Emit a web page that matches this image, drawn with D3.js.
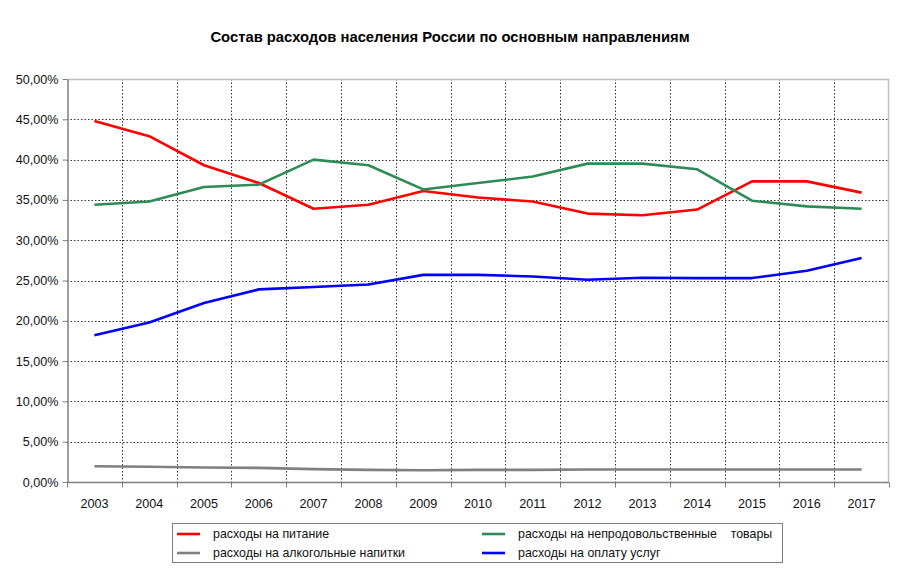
<!DOCTYPE html>
<html>
<head>
<meta charset="utf-8">
<script src="https://cdn.jsdelivr.net/npm/d3@7"></script>
<style>
  body { margin: 0; background: #fff; }
  svg { font-family: "Liberation Sans", Arial, sans-serif; }
</style>
</head>
<body>
<div id="chart"></div>
<script>
// values in %
var years = ['2003', '2004', '2005', '2006', '2007', '2008', '2009', '2010',
             '2011', '2012', '2013', '2014', '2015', '2016', '2017'];
var food    = [44.8, 42.9, 39.3, 37.1, 33.9, 34.4, 36.1, 35.3, 34.8, 33.3, 33.1, 33.8, 37.3, 37.3, 35.9];
var goods   = [34.4, 34.8, 36.6, 36.9, 40.0, 39.3, 36.3, 37.1, 37.9, 39.5, 39.5, 38.8, 34.9, 34.2, 33.9];
var alcohol = [1.95, 1.9, 1.8, 1.75, 1.6, 1.5, 1.45, 1.5, 1.5, 1.55, 1.55, 1.55, 1.55, 1.55, 1.55];
var service = [18.2, 19.8, 22.2, 23.9, 24.2, 24.5, 25.7, 25.7, 25.5, 25.1, 25.35, 25.3, 25.3, 26.2, 27.8];
var yTicks  = [0, 5, 10, 15, 20, 25, 30, 35, 40, 45, 50];

var title = 'Состав расходов населения России по основным направлениям';

var series = [
  { name: 'расходы на питание', values: food, color: '#ff0000' },
  { name: 'расходы на алкогольные напитки', values: alcohol, color: '#808080' },
  { name: 'расходы на непродовольственные    товары', values: goods, color: '#2e8b57' },
  { name: 'расходы на оплату услуг', values: service, color: '#0000ff' }
];

var width = 900, height = 588;
var margins = { top: 79, right: 11, bottom: 106, left: 67 };

var svg = d3.select('#chart').append('svg')
  .attr('width', width)
  .attr('height', height);

svg.append('text')
  .attr('x', 450)
  .attr('y', 42)
  .attr('text-anchor', 'middle')
  .style('font-size', '14.8px')
  .style('font-weight', 'bold')
  .text(title);

var x = d3.scaleBand()
  .domain(years)
  .range([margins.left, width - margins.right]);

var y = d3.scaleLinear()
  .domain([0, 50])
  .range([height - margins.bottom, margins.top]);

var grid = svg.append('g').attr('class', 'grid');

// horizontal grid
grid.selectAll('line.h')
  .data(yTicks.filter(function (d) { return d > 0 && d < 50; }))
  .enter().append('line')
  .attr('x1', margins.left).attr('x2', width - margins.right)
  .attr('y1', function (d) { return Math.round(y(d)) + 0.5; })
  .attr('y2', function (d) { return Math.round(y(d)) + 0.5; })
  .attr('stroke', '#333')
  .attr('stroke-dasharray', '1.5,2');

// vertical grid at band edges
grid.selectAll('line.v')
  .data(years.slice(1))
  .enter().append('line')
  .attr('x1', function (d) { return Math.round(x(d)) + 0.5; })
  .attr('x2', function (d) { return Math.round(x(d)) + 0.5; })
  .attr('y1', margins.top).attr('y2', height - margins.bottom)
  .attr('stroke', '#333')
  .attr('stroke-dasharray', '1.5,2');

// plot frame (top/right light)
svg.append('path')
  .attr('d', 'M' + margins.left + ',' + (margins.top + 0.5) +
             'H' + (width - margins.right - 0.5) +
             'V' + (height - margins.bottom))
  .attr('fill', 'none')
  .attr('stroke', '#c0c0c0')
  .attr('stroke-width', 1.5);

// y axis
var yAxis = svg.append('g')
  .attr('transform', 'translate(' + (margins.left + 0.5) + ',0)')
  .call(d3.axisLeft(y).tickValues(yTicks).tickSize(5).tickSizeOuter(0)
    .tickFormat(function (d) { return d3.format('.2f')(d).replace('.', ',') + '%'; }));
yAxis.select('.domain').attr('stroke', '#808080').attr('stroke-width', 1.5);
yAxis.selectAll('.tick line').attr('stroke', '#808080');
yAxis.selectAll('text')
  .attr('x', -9)
  .style('font-size', '12.6px')
  .attr('fill', '#111');

// x axis: ticks at band edges, labels at centres
var xAxis = svg.append('g')
  .attr('transform', 'translate(0,' + (height - margins.bottom + 0.5) + ')');
xAxis.append('line')
  .attr('x1', margins.left).attr('x2', width - margins.right)
  .attr('stroke', '#808080').attr('stroke-width', 1.5);
xAxis.selectAll('line.tk')
  .data(years.concat(['end']))
  .enter().append('line')
  .attr('x1', function (d, i) { return Math.round(margins.left + i * x.bandwidth()) + 0.5; })
  .attr('x2', function (d, i) { return Math.round(margins.left + i * x.bandwidth()) + 0.5; })
  .attr('y1', 0).attr('y2', 5)
  .attr('stroke', '#808080');
xAxis.selectAll('text')
  .data(years)
  .enter().append('text')
  .attr('x', function (d) { return x(d) + x.bandwidth() / 2; })
  .attr('y', 25)
  .attr('text-anchor', 'middle')
  .attr('fill', '#111')
  .style('font-size', '12.6px')
  .text(function (d) { return d; });

// lines
var line = d3.line()
  .x(function (d, i) { return x(years[i]) + x.bandwidth() / 2; })
  .y(function (d) { return y(d); });

svg.selectAll('path.series')
  .data(series)
  .enter().append('path')
  .attr('class', 'series')
  .attr('d', function (s) { return line(s.values); })
  .attr('fill', 'none')
  .attr('stroke', function (s) { return s.color; })
  .attr('stroke-width', 2.6)
  .attr('stroke-linejoin', 'round');

// legend
var legend = svg.append('g').attr('transform', 'translate(172,523)');
legend.append('rect')
  .attr('x', 0.5).attr('y', 0.5)
  .attr('width', 610).attr('height', 39)
  .attr('fill', '#fff')
  .attr('stroke', '#808080');

var items = legend.selectAll('g.item')
  .data(series)
  .enter().append('g')
  .attr('transform', function (d, i) {
    return 'translate(' + (i < 2 ? 5 : 310) + ',' + (i % 2 === 0 ? 11 : 30) + ')';
  });
items.append('line')
  .attr('x1', 0).attr('x2', 23)
  .attr('stroke', function (d) { return d.color; })
  .attr('stroke-width', 2.6);
items.append('text')
  .attr('x', 36)
  .attr('y', 4)
  .attr('fill', '#111')
  .style('font-size', '12.4px')
  .style('white-space', 'pre')
  .text(function (d) { return d.name; });
</script>
</body>
</html>
